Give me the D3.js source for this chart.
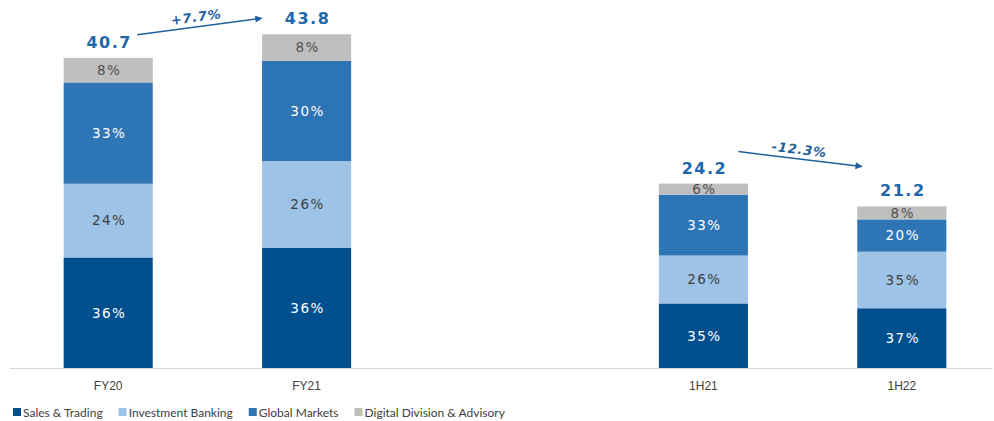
<!DOCTYPE html>
<html lang="en">
<head>
<meta charset="UTF-8">
<title>Revenue mix</title>
<style>
  body { margin: 0; background: #fff; }
  svg { display: block; }
</style>
</head>
<body>
<svg width="994" height="421"></svg>
<script src="https://cdn.jsdelivr.net/npm/d3@7"></script>
<script>
// data
var categories = ["FY20", "FY21", "1H21", "1H22"];
var slots = ["FY20", "FY21", "gap", "1H21", "1H22"];
var totals = [40.7, 43.8, 24.2, 21.2];

var seriesNames = ["Sales & Trading", "Investment Banking", "Global Markets", "Digital Division & Advisory"];
var salesTrading = [36, 36, 35, 37];
var investmentBanking = [24, 26, 26, 35];
var globalMarkets = [33, 30, 33, 20];
var digitalAdvisory = [8, 8, 6, 8];

var seriesColors = ["#00508f", "#9dc3e6", "#2e75b6", "#bfbfbf"];
var labelColors = ["#ffffff", "#404040", "#ffffff", "#505050"];

var changes = [
  { from: "FY20", to: "FY21", label: "+7.7%" },
  { from: "1H21", to: "1H22", label: "-12.3%" }
];

var svg = d3.select("svg");
var baseY = 368;

var x = d3.scaleBand()
  .domain(slots)
  .range([9, 1001])
  .paddingInner(0.551)
  .paddingOuter(0.2755);

var y = d3.scaleLinear()
  .domain([0, 45])
  .range([baseY, baseY - 45 * 7.62]);

var pcts = [salesTrading, investmentBanking, globalMarkets, digitalAdvisory];

// rows scaled so the stack reaches each bar's total
var rows = categories.map(function (c, i) {
  var sum = d3.sum(pcts, function (s) { return s[i]; });
  var row = { cat: c, total: totals[i] };
  seriesNames.forEach(function (n, k) {
    row[n] = totals[i] * pcts[k][i] / sum;
    row[n + "_pct"] = pcts[k][i];
  });
  return row;
});

var stack = d3.stack().keys(seriesNames)(rows);

// axis baseline
svg.append("line")
  .attr("x1", 10).attr("x2", 993)
  .attr("y1", baseY + 0.5).attr("y2", baseY + 0.5)
  .attr("stroke", "#d9d9d9")
  .attr("stroke-width", 1.2);

var layer = svg.selectAll("g.layer")
  .data(stack)
  .enter().append("g")
  .attr("class", "layer")
  .attr("fill", function (d, k) { return seriesColors[k]; });

layer.selectAll("rect")
  .data(function (d) { return d; })
  .enter().append("rect")
  .attr("x", function (d) { return x(d.data.cat); })
  .attr("width", x.bandwidth())
  .attr("y", function (d) { return y(d[1]); })
  .attr("height", function (d) { return y(d[0]) - y(d[1]); });

stack.forEach(function (s, k) {
  svg.selectAll("text.seg" + k)
    .data(s)
    .enter().append("text")
    .attr("class", "seg" + k)
    .attr("x", function (d) { return x(d.data.cat) + x.bandwidth() / 2 + 1; })
    .attr("y", function (d) { return (y(d[0]) + y(d[1])) / 2; })
    .attr("dy", "0.36em")
    .attr("text-anchor", "middle")
    .attr("font-family", "DejaVu Sans, Verdana, sans-serif")
    .attr("font-size", 13.5)
    .attr("letter-spacing", 1.5)
    .attr("fill", labelColors[k])
    .text(function (d) { return d.data[s.key + "_pct"] + "%"; });
});

// totals above bars
svg.selectAll("text.total")
  .data(rows)
  .enter().append("text")
  .attr("class", "total")
  .attr("x", function (d) { return x(d.cat) + x.bandwidth() / 2 + 1; })
  .attr("y", function (d) { return y(d.total) - 10; })
  .attr("text-anchor", "middle")
  .attr("font-family", "DejaVu Sans, Verdana, sans-serif")
  .attr("font-weight", "bold")
  .attr("font-size", 16)
  .attr("letter-spacing", 1.5)
  .attr("fill", "#1f67ab")
  .text(function (d) { return d.total.toFixed(1); });

// category labels
svg.selectAll("text.cat")
  .data(categories)
  .enter().append("text")
  .attr("class", "cat")
  .attr("x", function (d) { return x(d) + x.bandwidth() / 2; })
  .attr("y", 390)
  .attr("text-anchor", "middle")
  .attr("font-family", "Liberation Sans, Arial, sans-serif")
  .attr("font-size", 12)
  .attr("fill", "#404040")
  .text(function (d) { return d; });

// change arrows
svg.append("defs").append("marker")
  .attr("id", "head")
  .attr("viewBox", "0 0 10 10")
  .attr("refX", 9).attr("refY", 5)
  .attr("markerWidth", 10).attr("markerHeight", 7)
  .attr("markerUnits", "userSpaceOnUse")
  .attr("orient", "auto")
  .append("path")
  .attr("d", "M0,0L10,5L0,10z")
  .attr("fill", "#1f5f9e");

var arrowShift = {
  "+7.7%": [29, -23, -45, -16],
  "-12.3%": [35, -32, -40, -40]
};

changes.forEach(function (c) {
  var i0 = categories.indexOf(c.from), i1 = categories.indexOf(c.to);
  var o = arrowShift[c.label];
  var x0 = x(c.from) + x.bandwidth() / 2 + o[0];
  var y0 = y(totals[i0]) + o[1];
  var x1 = x(c.to) + x.bandwidth() / 2 + o[2];
  var y1 = y(totals[i1]) + o[3];
  svg.append("line")
    .attr("x1", x0).attr("y1", y0)
    .attr("x2", x1).attr("y2", y1)
    .attr("stroke", "#1f5f9e")
    .attr("stroke-width", 1.5)
    .attr("marker-end", "url(#head)");
  var ang = Math.atan2(y1 - y0, x1 - x0) * 180 / Math.PI;
  var mx = (x0 + x1) / 2 - 2, my = (y0 + y1) / 2;
  svg.append("text")
    .attr("transform", "translate(" + mx + "," + my + ") rotate(" + ang + ")")
    .attr("y", -5)
    .attr("text-anchor", "middle")
    .attr("font-family", "DejaVu Sans, Verdana, sans-serif")
    .attr("font-weight", "bold")
    .attr("font-style", "italic")
    .attr("font-size", 13)
    .attr("letter-spacing", 0.8)
    .attr("fill", "#1f5f9e")
    .text(c.label);
});

// legend
var legend = svg.append("g")
  .attr("transform", "translate(13, 412)");
var lx = 0;
seriesNames.forEach(function (n, k) {
  var item = legend.append("g").attr("transform", "translate(" + lx + ",0)");
  item.append("rect")
    .attr("x", 0).attr("y", -4)
    .attr("width", 8).attr("height", 8)
    .attr("fill", seriesColors[k]);
  var t = item.append("text")
    .attr("x", 10)
    .attr("y", 4.5)
    .attr("font-family", "Lato, Liberation Sans, sans-serif")
    .attr("font-size", 12)
    .attr("fill", "#404040")
    .text(n);
  lx += 10 + t.node().getComputedTextLength() + 16;
});
</script>
</body>
</html>
